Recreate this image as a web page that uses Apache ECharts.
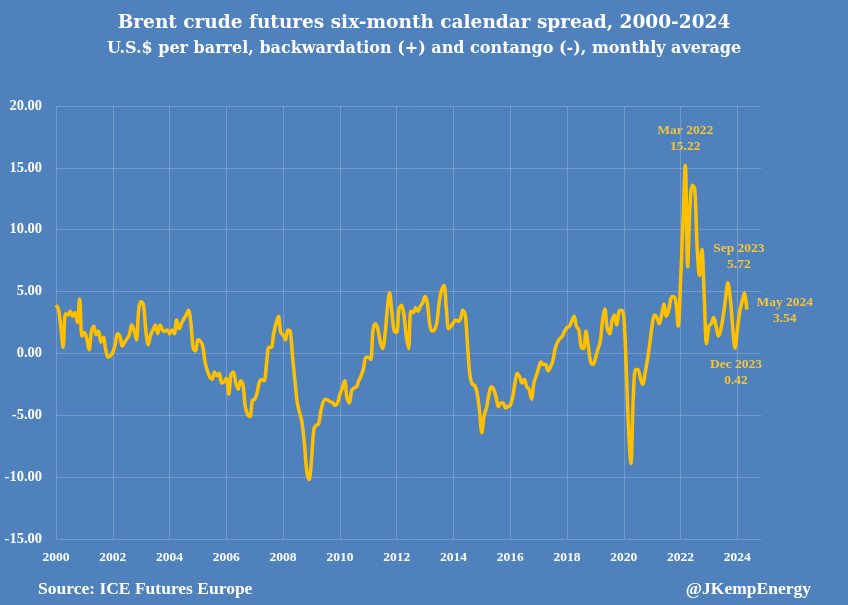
<!DOCTYPE html>
<html>
<head>
<meta charset="utf-8">
<script src="https://cdn.jsdelivr.net/npm/echarts@6/dist/echarts.min.js"></script>
<style>
html,body{margin:0;padding:0;background:#4f81bd;}
#chart{width:848px;height:605px;}
</style>
</head>
<body>
<div id="chart"></div>
<script>
// Monthly Brent six-month calendar spread, Jan 2000 - May 2024 (US$/bbl)
const spread2000 = [3.9, 3.6, 2.2, 0.5, 3.2, 3.1, 3.4, 3.0, 3.3, 2.5, 4.4, 1.4];
const spread2001 = [1.7, 1.2, 0.3, 1.8, 2.2, 1.5, 1.8, 0.9, 1.3, 0.3, -0.3, -0.2];
const spread2002 = [0.1, 0.7, 1.6, 1.4, 0.6, 0.9, 1.2, 1.5, 2.3, 1.9, 1.1, 3.6];
const spread2003 = [4.2, 3.9, 1.8, 0.7, 1.5, 1.9, 2.3, 1.6, 2.3, 1.9, 1.8, 1.9];
const spread2004 = [1.6, 1.9, 1.6, 2.7, 2.0, 2.4, 2.8, 3.1, 3.5, 2.5, 0.4, 0.2];
const spread2005 = [1.1, 1.0, 0.6, -0.7, -1.4, -1.9, -2.1, -1.5, -1.8, -1.6, -2.4, -2.3];
const spread2006 = [-2.0, -3.3, -1.7, -1.5, -2.4, -2.9, -2.2, -2.5, -4.3, -4.9, -5.1, -3.8];
const spread2007 = [-3.7, -3.2, -2.3, -2.1, -2.2, -0.8, 0.5, 0.5, 1.6, 2.4, 3.0, 1.7];
const spread2008 = [1.5, 1.1, 1.9, 1.8, -0.3, -2.2, -4.0, -4.8, -5.6, -7.3, -9.5, -10.2];
const spread2009 = [-8.6, -6.1, -5.8, -5.7, -4.6, -3.9, -3.7, -3.8, -3.9, -4.0, -4.2, -4.0];
const spread2010 = [-3.3, -2.8, -2.2, -3.6, -4.0, -3.0, -2.8, -2.7, -2.2, -1.8, -1.2, -0.3];
const spread2011 = [-0.3, -0.5, 1.9, 2.4, 2.0, 1.0, 0.4, 1.4, 3.5, 4.9, 3.3, 1.8];
const spread2012 = [1.7, 3.6, 3.9, 3.2, 1.5, 0.4, 3.4, 3.3, 3.7, 3.4, 3.8, 4.1];
const spread2013 = [4.6, 4.0, 2.3, 1.8, 1.9, 2.5, 4.2, 5.1, 5.5, 3.6, 2.0, 2.2];
const spread2014 = [2.5, 2.7, 2.6, 2.8, 3.5, 3.1, 0.5, -1.8, -2.5, -2.6, -3.2, -4.6];
const spread2015 = [-6.4, -5.0, -4.4, -3.3, -2.7, -2.9, -3.5, -4.3, -4.0, -4.0, -4.4, -4.3];
const spread2016 = [-4.2, -3.6, -2.4, -1.6, -1.9, -2.4, -2.1, -2.7, -2.9, -3.7, -2.4, -1.8];
const spread2017 = [-1.2, -0.7, -0.9, -0.9, -1.4, -1.1, -0.6, 0.4, 0.9, 1.2, 1.4, 1.8];
const spread2018 = [2.1, 2.2, 2.6, 3.0, 2.2, 1.9, 0.5, 0.4, 1.8, 0.6, -0.7, -0.9];
const spread2019 = [-0.4, 0.3, 0.9, 2.6, 3.6, 2.0, 1.6, 2.6, 3.1, 2.3, 3.4, 3.5];
const spread2020 = [3.0, -1.0, -6.0, -8.9, -3.6, -1.3, -1.3, -2.0, -2.5, -1.6, -0.5, 0.8];
const spread2021 = [2.3, 3.1, 2.9, 2.4, 3.1, 4.0, 3.0, 3.5, 4.5, 4.6, 4.2, 2.2];
const spread2022 = [5.8, 10.5, 15.22, 7.0, 12.0, 13.6, 13.3, 8.6, 6.3, 8.4, 4.6, 0.8];
const spread2023 = [2.2, 2.4, 2.9, 2.2, 1.4, 1.9, 3.0, 4.4, 5.72, 4.5, 2.2, 0.42];
const spread2024 = [1.9, 3.4, 4.2, 4.9, 3.54];

const spreadValues = [].concat(
  spread2000, spread2001, spread2002, spread2003, spread2004, spread2005,
  spread2006, spread2007, spread2008, spread2009, spread2010, spread2011,
  spread2012, spread2013, spread2014, spread2015, spread2016, spread2017,
  spread2018, spread2019, spread2020, spread2021, spread2022, spread2023,
  spread2024
);

// Month categories Jan 2000 .. Nov 2024 (axis runs a little past the data)
const monthNames = ['Jan','Feb','Mar','Apr','May','Jun','Jul','Aug','Sep','Oct','Nov','Dec'];
const months = [];
for (let y = 2000; y <= 2024; y++) {
  for (let m = 0; m < 12; m++) {
    if (y === 2024 && m > 10) break;
    months.push(monthNames[m] + ' ' + y);
  }
}

const yTicks = [-15, -10, -5, 0, 5, 10, 15, 20];

// Annotated points
const annotations = [
  { name: 'Mar 2022', value: 15.22 },
  { name: 'Sep 2023', value: 5.72 },
  { name: 'May 2024', value: 3.54 },
  { name: 'Dec 2023', value: 0.42 }
];
const annotationOffsets = {
  'Mar 2022': [0, -27],
  'Sep 2023': [11, -26],
  'May 2024': [38, 1],
  'Dec 2023': [1, 24]
};

const serif = '"Liberation Serif", serif';
const titleSerif = '"DejaVu Serif", "Liberation Serif", serif';
const gold = '#ffc000';
const labelGold = '#f2c53a';
const gridColor = 'rgba(255,255,255,0.2)';

const isYearTick = function (index) { return index % 24 === 0; };

const chart = echarts.init(document.getElementById('chart'), null, { renderer: 'canvas' });
chart.setOption({
  backgroundColor: '#4f81bd',
  animation: false,
  title: {
    text: 'Brent crude futures six-month calendar spread, 2000-2024',
    subtext: 'U.S.$ per barrel, backwardation (+) and contango (-), monthly average',
    left: 'center',
    top: 9,
    itemGap: 8,
    textStyle: { color: '#ffffff', fontFamily: titleSerif, fontWeight: 'bold', fontSize: 18.5 },
    subtextStyle: { color: '#ffffff', fontFamily: titleSerif, fontWeight: 'bold', fontSize: 16 }
  },
  grid: { left: 56, right: 87, top: 106, bottom: 66, containLabel: false },
  xAxis: {
    type: 'category',
    data: months,
    boundaryGap: false,
    axisLine: { show: false },
    axisTick: { show: false },
    axisLabel: {
      interval: isYearTick,
      color: '#ffffff',
      fontFamily: serif,
      fontWeight: 'bold',
      fontSize: 13.5,
      margin: 12,
      formatter: function (v) { return v.split(' ')[1]; }
    },
    splitLine: { show: true, interval: isYearTick, lineStyle: { color: gridColor, width: 1 } }
  },
  yAxis: {
    type: 'value',
    min: yTicks[0],
    max: yTicks[yTicks.length - 1],
    interval: 5,
    axisLine: { show: false },
    axisTick: { show: false },
    axisLabel: {
      color: '#ffffff',
      fontFamily: serif,
      fontWeight: 'bold',
      fontSize: 14.5,
      margin: 14,
      formatter: function (v) { return v.toFixed(2); }
    },
    splitLine: { show: true, lineStyle: { color: gridColor, width: 1 } }
  },
  series: [{
    type: 'line',
    data: spreadValues,
    showSymbol: false,
    symbol: 'none',
    smooth: 0.35,
    lineStyle: { color: gold, width: 3.5 },
    markPoint: {
      symbol: 'circle',
      symbolSize: 0,
      data: annotations.map(function (a) {
        return {
          coord: [a.name, a.value],
          value: a.value,
          label: {
            show: true,
            position: 'inside',
            offset: annotationOffsets[a.name],
            formatter: a.name + '\n' + a.value.toFixed(2),
            color: labelGold,
            fontFamily: serif,
            fontWeight: 'bold',
            fontSize: 13.5,
            lineHeight: 16,
            align: 'center'
          }
        };
      })
    }
  }],
  graphic: [
    {
      type: 'text', left: 38, top: 580,
      style: { text: 'Source: ICE Futures Europe', fill: '#ffffff', font: 'bold 17.5px ' + serif }
    },
    {
      type: 'text', right: 37, top: 580,
      style: { text: '@JKempEnergy', fill: '#ffffff', font: 'bold 17.5px ' + serif }
    }
  ]
});
</script>
</body>
</html>
